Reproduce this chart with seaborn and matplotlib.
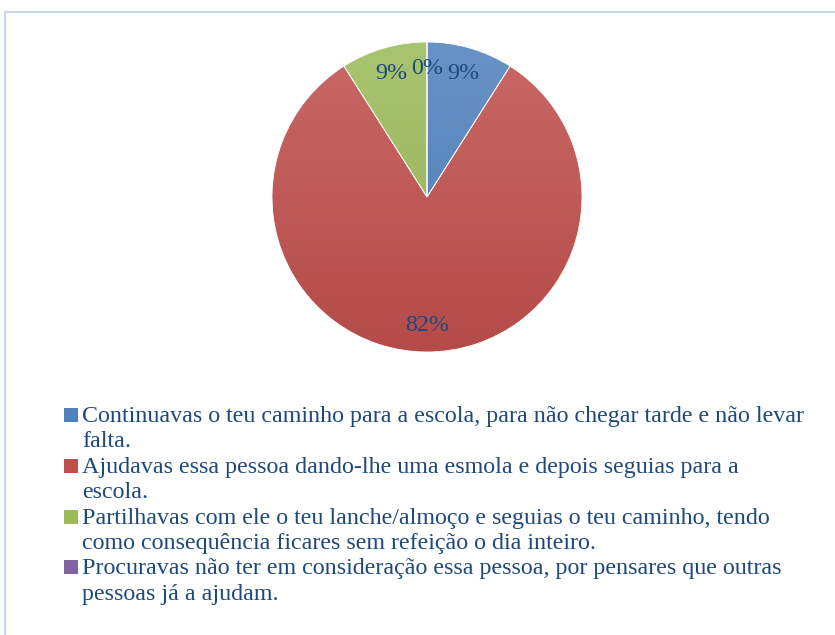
"""Pie chart: reaction to a person asking for help on the way to school."""

import matplotlib

matplotlib.use("Agg")
import matplotlib.pyplot as plt
import numpy as np
import seaborn as sns
from matplotlib.colors import LinearSegmentedColormap, to_rgb
from matplotlib.patches import Rectangle

options = [
    "Continuavas o teu caminho para a escola, para não chegar tarde e não levar\nfalta.",
    "Ajudavas essa pessoa dando-lhe uma esmola e depois seguias para a\nescola.",
    "Partilhavas com ele o teu lanche/almoço e seguias o teu caminho, tendo\ncomo consequência ficares sem refeição o dia inteiro.",
    "Procuravas não ter em consideração essa pessoa, por pensares que outras\npessoas já a ajudam.",
]
shares = [9, 82, 9, 0]
colors = ["#4F81BD", "#C0504D", "#9BBB59", "#8064A2"]

TEXT = "#1F497D"
W, H = 835, 635
FS = 17.3

sns.set_theme(style="white")
plt.rcParams["font.family"] = ["Liberation Serif", "DejaVu Serif"]

fig = plt.figure(figsize=(W / 100, H / 100), dpi=100)
fig.patch.set_facecolor("white")

# chart area border (cut off at right and bottom like the original)
fig.add_artist(
    Rectangle((4.5 / W, -0.1), 1.2, (H - 12) / H + 0.1, transform=fig.transFigure,
              fill=False, edgecolor="#C6D9F1", linewidth=1.5)
)

ax = fig.add_axes([272 / W, 1 - 352 / H, 310 / W, 310 / H])
wedges, texts, autotexts = ax.pie(
    shares,
    colors=colors,
    startangle=90,
    counterclock=False,
    autopct="%.0f%%",
    pctdistance=0.83,
    wedgeprops=dict(edgecolor="white", linewidth=0.6),
    textprops=dict(color=TEXT, fontsize=FS),
)

# Office-style vertical shading: lighter at the top, darker at the bottom
grad = np.linspace(1, 0, 256).reshape(-1, 1)
for w, c in zip(wedges, colors):
    rgb = np.array(to_rgb(c))
    cmap = LinearSegmentedColormap.from_list("shade", [rgb * 0.94, rgb + (1 - rgb) * 0.14])
    im = ax.imshow(grad, cmap=cmap, extent=(-1, 1, -1, 1), aspect="auto",
                   interpolation="bilinear", zorder=1.1)
    im.set_clip_path(w)
    w.set_facecolor("none")
    w.set_zorder(1.2)

ax.set_xlim(-1, 1)
ax.set_ylim(-1, 1)
ax.set_axis_off()

# legend below the pie, markers aligned with the first line of each entry
line_h = 25.4
y = 422
for label, color in zip(options, colors):
    fig.add_artist(
        Rectangle((64 / W, 1 - y / H), 14 / W, 14 / H, transform=fig.transFigure,
                  facecolor=color, edgecolor="none")
    )
    for line in label.split("\n"):
        fig.text(82 / W, 1 - y / H, line, ha="left", va="baseline", fontsize=FS, color=TEXT)
        y += line_h

fig.savefig("out.png", dpi=100)
